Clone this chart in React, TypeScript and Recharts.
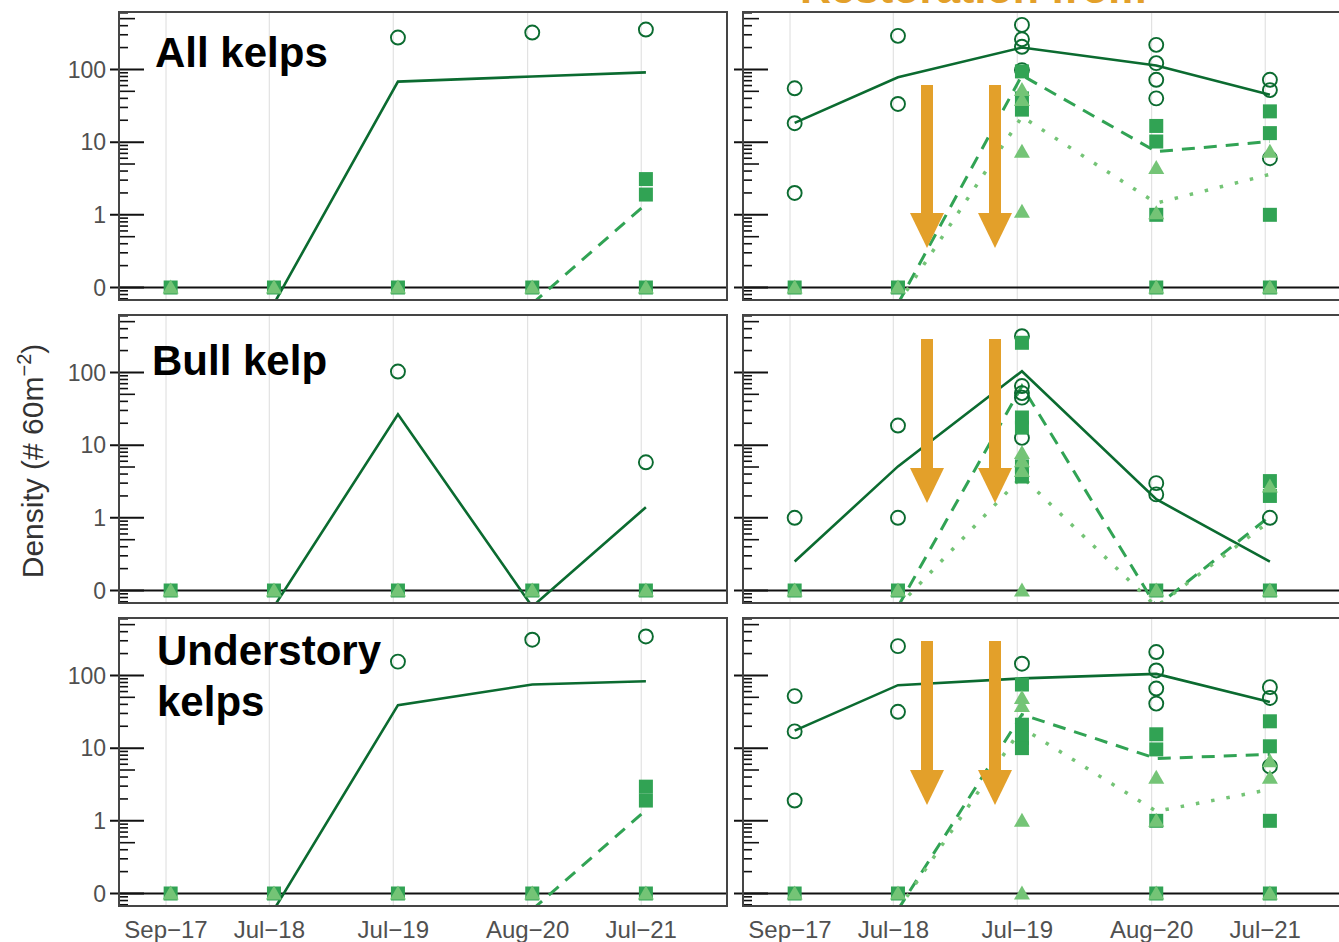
import React from "react";
import { ComposedChart, Line, Scatter, XAxis, YAxis, ReferenceLine } from "recharts";

// x axis: months since Sep 2017, ticks at the 1st of the month
const DATE_TICKS = [0, 10, 22, 35, 46];
const DATE_LABELS = ["Sep\u221217", "Jul\u221218", "Jul\u221219", "Aug\u221220", "Jul\u221221"];
// surveys were done mid-month
const SURVEY_X = [0.45, 10.45, 22.45, 35.45, 46.45];

// y axis: log scale, "0" is drawn where 0.1 would sit
const Y_MAJOR = [0.1, 1, 10, 100];
const Y_MAJOR_LABELS = ["0", "1", "10", "100"];
const Y_MINOR = [
  0.07, 0.08, 0.09,
  0.2, 0.3, 0.4, 0.5, 0.6, 0.7, 0.8, 0.9,
  2, 3, 4, 5, 6, 7, 8, 9,
  20, 30, 40, 50, 60, 70, 80, 90,
  200, 300, 400, 500, 600,
];

// ---- All kelps, reference ----
const allRefSites = [[], [], [275], [322], [354]];
const allRefMean = [null, 0, 68, 80, 91];
const allRefSquares = [[0], [0], [0], [0], [0, 3.1, 1.9]];
const allRefSquaresMean = [null, null, null, 0, 1.4];
const allRefTriangles = [[0], [0], [0], [0], [0]];
const allRefTrianglesMean: (number | null)[] = [];

// ---- All kelps, restoration ----
const allRestSites = [[55, 18.2, 2.0], [290, 33.5], [410, 260, 205, 98], [218, 122, 72, 40], [72, 52, 6]];
const allRestMean = [18.4, 78, 200, 113, 45];
const allRestSquares = [[0], [0], [94, 40, 28], [16.7, 10.2, 1.0, 0], [26.5, 13.3, 1.0, 0]];
const allRestSquaresMean = [null, 0, 83, 7.4, 10.2];
const allRestTriangles = [[0], [0], [52, 38, 7.4, 1.1], [4.4, 1.05, 0], [7.4, 0]];
const allRestTrianglesMean = [null, 0, 22.4, 1.45, 3.6];

// ---- Bull kelp, reference ----
const bullRefSites = [[], [], [103], [], [5.8]];
const bullRefMean = [null, 0, 26.5, 0, 1.4];
const bullRefSquares = [[0], [0], [0], [0], [0]];
const bullRefSquaresMean: (number | null)[] = [];
const bullRefTriangles = [[0], [0], [0], [0], [0]];
const bullRefTrianglesMean: (number | null)[] = [];

// ---- Bull kelp, restoration ----
const bullRestSites = [[1.0], [18.6, 1.0], [315, 65, 52, 45, 12.6], [3.0, 2.1], [1.0]];
const bullRestMean = [0.25, 5.1, 104, 1.8, 0.25];
const bullRestSquares = [[0], [0], [256, 24, 17.4, 5.1, 3.7], [0], [3.2, 2.0, 0]];
const bullRestSquaresMean = [null, 0, 65, 0, 1.05];
const bullRestTriangles = [[0], [0], [7.8, 6.0, 4.4, 0], [0], [2.7, 0]];
const bullRestTrianglesMean = [null, 0, 3.7, 0, 0.9];

// ---- Understory kelps, reference ----
const underRefSites = [[], [], [155], [310], [344]];
const underRefMean = [null, 0, 39, 75, 83];
const underRefSquares = [[0], [0], [0], [0], [0, 2.95, 1.9]];
const underRefSquaresMean = [null, null, null, 0, 1.4];
const underRefTriangles = [[0], [0], [0], [0], [0]];
const underRefTrianglesMean: (number | null)[] = [];

// ---- Understory kelps, restoration ----
const underRestSites = [[52, 17, 1.9], [253, 31.6], [145], [210, 117, 66, 41], [69, 49, 5.6]];
const underRestMean = [17.4, 73.5, 91, 105, 43];
const underRestSquares = [[0], [0], [75, 21, 13.8, 10], [15.5, 9.6, 1.0, 0], [23.4, 10.6, 1.0, 0]];
const underRestSquaresMean = [null, 0, 29, 7.2, 8.2];
const underRestTriangles = [[0], [0], [49, 38, 1.0, 0], [3.9, 1.0, 0], [6.6, 3.9, 0]];
const underRestTrianglesMean = [null, 0, 19, 1.35, 2.7];

const FONT = "'Liberation Sans', Arial, sans-serif";
const DARK = "#0b6b30";
const MID = "#31a354";
const LIGHT = "#74c476";
const ORANGE = "#e3a02a";

const ZERO_AT = 0.1; // where "0" sits
const OFF_AXIS = 0.06; // zero means run off the bottom of the panel
const X_DOMAIN = [-4.55, 54.3];
const Y_DOMAIN = [0.0673, 617];
const PLOT_W = 608;
const PLOT_H = 288;
const ROW_TOPS = [12, 315, 618];

const toPoints = (groups: number[][]) =>
  groups.flatMap((vals, i) => vals.map((v) => ({ x: SURVEY_X[i], y: v > 0 ? v : ZERO_AT })));

const toLine = (vals: (number | null)[]) =>
  vals.flatMap((v, i) => (v === null ? [] : [{ x: SURVEY_X[i], y: v > 0 ? v : OFF_AXIS }]));

const OpenCircle = (p: any) => (
  <circle cx={p.cx} cy={p.cy} r={7} fill="none" stroke={DARK} strokeWidth={1.9} />
);
const Square = (p: any) => <rect x={p.cx - 7} y={p.cy - 7} width={14} height={14} fill={MID} />;
const Triangle = (p: any) => (
  <polygon points={`${p.cx},${p.cy - 8} ${p.cx + 8},${p.cy + 6} ${p.cx - 8},${p.cy + 6}`} fill={LIGHT} />
);

function LogTick(props: any) {
  const { x, y, payload, showLabel } = props;
  const v = payload.value;
  const mi = Y_MAJOR.findIndex((m) => Math.abs(m - v) / m < 1e-6);
  if (mi >= 0) {
    return (
      <g>
        <line x1={x - 9} x2={x + 25} y1={y} y2={y} stroke="#111" strokeWidth={2} />
        {showLabel && (
          <text x={x - 13} y={y} dy="0.36em" textAnchor="end" fontSize={23} fill="#505050" fontFamily={FONT}>
            {Y_MAJOR_LABELS[mi]}
          </text>
        )}
      </g>
    );
  }
  const lead = Math.round(v / Math.pow(10, Math.floor(Math.log10(v) + 1e-9)));
  const len = lead === 5 ? 16 : 9;
  return <line x1={x} x2={x + len} y1={y} y2={y} stroke="#111" strokeWidth={1.6} />;
}

type PanelProps = {
  left: number;
  top: number;
  yWidth: number;
  showLabels: boolean;
  showX: boolean;
  sites: number[][];
  mean: (number | null)[];
  squares: number[][];
  squaresMean: (number | null)[];
  triangles: number[][];
  trianglesMean: (number | null)[];
};

function Panel(p: PanelProps) {
  const xH = p.showX ? 40 : 0;
  return (
    <div style={{ position: "absolute", left: p.left, top: p.top }}>
      <ComposedChart width={p.yWidth + PLOT_W} height={PLOT_H + xH} margin={{ top: 0, right: 0, bottom: 0, left: 0 }}>
        <XAxis
          type="number"
          dataKey="x"
          domain={X_DOMAIN}
          allowDataOverflow
          ticks={DATE_TICKS}
          interval={0}
          hide={!p.showX}
          height={xH}
          tickFormatter={(v) => DATE_LABELS[DATE_TICKS.indexOf(v)]}
          tick={{ fontSize: 24, fill: "#505050", fontFamily: FONT }}
          tickLine={false}
          axisLine={false}
          tickSize={0}
          tickMargin={15}
        />
        <YAxis
          type="number"
          dataKey="y"
          scale="log"
          domain={Y_DOMAIN}
          allowDataOverflow
          ticks={[...Y_MAJOR, ...Y_MINOR]}
          interval={0}
          width={p.yWidth}
          tick={(tp: any) => <LogTick {...tp} showLabel={p.showLabels} />}
          tickLine={false}
          axisLine={false}
          tickSize={0}
          tickMargin={0}
        />
        {DATE_TICKS.map((t) => (
          <ReferenceLine key={t} x={t} stroke="#e2e2e2" strokeWidth={1.2} />
        ))}
        <ReferenceLine y={ZERO_AT} stroke="#111" strokeWidth={2} />
        <Scatter data={toPoints(p.sites)} shape={OpenCircle} isAnimationActive={false} />
        <Scatter data={toPoints(p.squares)} shape={Square} isAnimationActive={false} />
        <Scatter data={toPoints(p.triangles)} shape={Triangle} isAnimationActive={false} />
        <Line data={toLine(p.mean)} dataKey="y" stroke={DARK} strokeWidth={2.6} dot={false} isAnimationActive={false} />
        <Line
          data={toLine(p.squaresMean)}
          dataKey="y"
          stroke={MID}
          strokeWidth={3}
          strokeDasharray="13 9"
          dot={false}
          isAnimationActive={false}
        />
        <Line
          data={toLine(p.trianglesMean)}
          dataKey="y"
          stroke={LIGHT}
          strokeWidth={3.5}
          strokeDasharray="3.5 12"
          dot={false}
          isAnimationActive={false}
        />
      </ComposedChart>
    </div>
  );
}

const ROWS = [
  {
    ref: [allRefSites, allRefMean, allRefSquares, allRefSquaresMean, allRefTriangles, allRefTrianglesMean],
    rest: [allRestSites, allRestMean, allRestSquares, allRestSquaresMean, allRestTriangles, allRestTrianglesMean],
  },
  {
    ref: [bullRefSites, bullRefMean, bullRefSquares, bullRefSquaresMean, bullRefTriangles, bullRefTrianglesMean],
    rest: [bullRestSites, bullRestMean, bullRestSquares, bullRestSquaresMean, bullRestTriangles, bullRestTrianglesMean],
  },
  {
    ref: [underRefSites, underRefMean, underRefSquares, underRefSquaresMean, underRefTriangles, underRefTrianglesMean],
    rest: [underRestSites, underRestMean, underRestSquares, underRestSquaresMean, underRestTriangles, underRestTrianglesMean],
  },
];

const Arrow = ({ x, top, headTop, tip }: { x: number; top: number; headTop: number; tip: number }) => (
  <g fill={ORANGE}>
    <rect x={x - 6} y={top} width={12} height={headTop - top + 1} />
    <polygon points={`${x - 17},${headTop} ${x + 17},${headTop} ${x},${tip}`} />
  </g>
);

export default function App() {
  const boxStyle = (left: number, top: number): React.CSSProperties => ({
    position: "absolute",
    left: left - 1,
    top: top - 1,
    width: PLOT_W + 2,
    height: PLOT_H + 2,
    border: "2px solid #454545",
    boxSizing: "border-box",
    pointerEvents: "none",
  });
  return (
    <div
      style={{
        position: "absolute",
        left: 0,
        top: 0,
        width: 1339,
        height: 942,
        overflow: "hidden",
        background: "#fff",
        fontFamily: FONT,
      }}
    >
      {ROWS.map((row, r) => {
        const top = ROW_TOPS[r];
        const showX = r === 2;
        const [s1, m1, q1, qm1, t1, tm1] = row.ref as any[];
        const [s2, m2, q2, qm2, t2, tm2] = row.rest as any[];
        return (
          <React.Fragment key={r}>
            <Panel left={0} top={top} yWidth={119} showLabels showX={showX}
              sites={s1} mean={m1} squares={q1} squaresMean={qm1} triangles={t1} trianglesMean={tm1} />
            <Panel left={713} top={top} yWidth={30} showLabels={false} showX={showX}
              sites={s2} mean={m2} squares={q2} squaresMean={qm2} triangles={t2} trianglesMean={tm2} />
            <div style={boxStyle(119, top)} />
            <div style={boxStyle(743, top)} />
          </React.Fragment>
        );
      })}
      <svg width={1339} height={942} style={{ position: "absolute", left: 0, top: 0, pointerEvents: "none" }}>
        <text x={800} y={3} fontSize={43} fontWeight="bold" fill={ORANGE} fontFamily={FONT}>
          Restoration from
        </text>
        <g fontSize={42} fontWeight="bold" fill="#000" fontFamily={FONT}>
          <text x={155} y={67}>All kelps</text>
          <text x={152} y={375}>Bull kelp</text>
          <text x={157} y={665}>Understory</text>
          <text x={157} y={716}>kelps</text>
        </g>
        <text
          x={43}
          y={461}
          transform="rotate(-90, 43, 461)"
          textAnchor="middle"
          fontSize={30}
          fill="#333"
          fontFamily={FONT}
        >
          Density (# 60m<tspan dy={-12} fontSize={20}>{"\u22122"}</tspan>
          <tspan dy={12}>)</tspan>
        </text>
        <Arrow x={927} top={85} headTop={213} tip={248} />
        <Arrow x={995} top={85} headTop={213} tip={248} />
        <Arrow x={927} top={339} headTop={468} tip={503} />
        <Arrow x={995} top={339} headTop={468} tip={503} />
        <Arrow x={927} top={641} headTop={770} tip={805} />
        <Arrow x={995} top={641} headTop={770} tip={805} />
      </svg>
    </div>
  );
}
